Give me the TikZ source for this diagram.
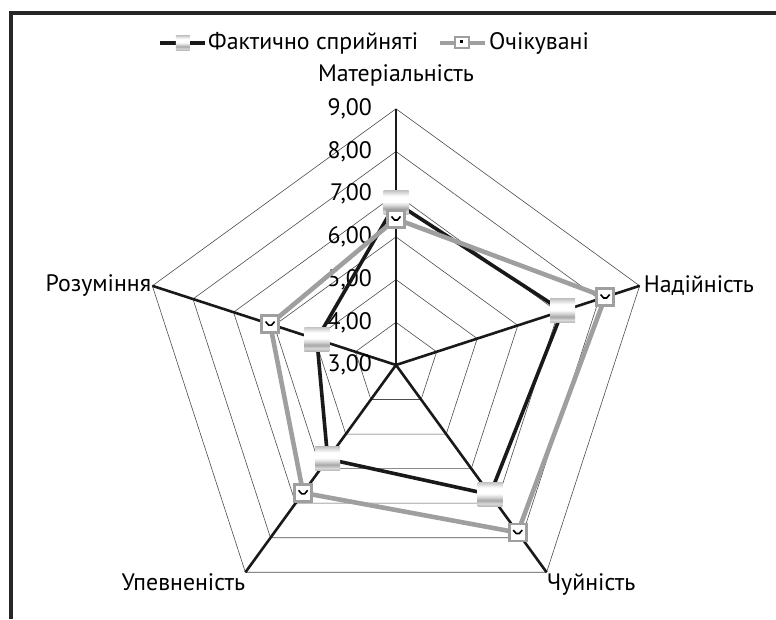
\documentclass[tikz,border=0pt]{standalone}
\usepackage{fontspec}
\setmainfont{PT Sans}
\usetikzlibrary{calc}
\newcommand\unitr{42.7}
\pgfdeclareverticalshading{factshade}{100bp}{color(0bp)=(gray!60); color(25bp)=(gray!60);
  color(31bp)=(gray!30); color(38bp)=(gray!70); color(44bp)=(gray!35); color(52bp)=(white);
  color(64bp)=(white); color(75bp)=(gray!45); color(100bp)=(gray!45)}
\tikzset{
  gridline/.style={draw=gray!60!black,line width=.6pt},
  spoke/.style={draw=black!90,line width=2.6pt},
  factline/.style={draw=black!90,line width=3.6pt,line join=round},
  expline/.style={draw=gray!75,line width=4.6pt,line join=round},
  factmark/.style={rectangle,inner sep=0pt,minimum width=25pt,minimum height=24pt,shading=factshade},
  expmark/.style={rectangle,inner sep=0pt,minimum size=17pt,draw=gray!75,line width=2.8pt,fill=white,
    path picture={\draw[black,line width=1.6pt]
      ($(path picture bounding box.center)+(-4.5,2.5)$) -- ++(3,-3.5) -- ++(3,0) -- ++(3,3.5);}},
  ticklabel/.style={anchor=east,inner sep=0pt},
  catlabel/.style={inner sep=2pt}
}
\begin{document}
\begin{tikzpicture}[x=1pt,y=1pt,font=\fontsize{23.8}{27}\selectfont]
  \useasboundingbox (-396,-254) rectangle (380,365);
  % frame
  \draw[black!85,line width=3.6pt] (-385,-254) -- (-385,352) -- (380,352);
  % grid
  \foreach \k in {1,...,6}
    \draw[gridline] (90:{\k*\unitr}) -- (18:{\k*\unitr}) -- (-54:{\k*\unitr})
      -- (-126:{\k*\unitr}) -- (162:{\k*\unitr}) -- cycle;
  \coordinate (c) at (0,0);
  \coordinate (vM) at (90:{6*\unitr});
  \coordinate (vN) at (18:{6*\unitr});
  \coordinate (vC) at (-54:{6*\unitr});
  \coordinate (vU) at (-126:{6*\unitr});
  \coordinate (vR) at (162:{6*\unitr});
  \draw[spoke] (c) -- (vM);
  \draw[spoke] (c) -- (vN);
  \draw[spoke] (c) -- (vC);
  \draw[spoke] (c) -- (vU);
  \draw[spoke] (c) -- (vR);
  % axis values
  \foreach \v [count=\k from 0] in {3,...,9}
    \node[ticklabel] (t\v) at (-24,{\k*\unitr}) {\v,00};
  % category labels
  \node[catlabel] (lM) at (0,290) {Матеріальність};
  \node[catlabel,anchor=west] (lN) at ($(vN)+(2,0)$) {Надійність};
  \node[catlabel,anchor=north west] (lC) at ($(vC)+(-2,1)$) {Чуйність};
  \node[catlabel,anchor=north east] (lU) at ($(vU)+(2,1)$) {Упевненість};
  \node[catlabel,anchor=east] (lR) at ($(vR)+(1,0)$) {Розуміння};
  % data: actual
  \coordinate (fM) at (90:{(6.80-3)*\unitr});
  \coordinate (fN) at (18:{(7.10-3)*\unitr});
  \coordinate (fC) at (-54:{(6.75-3)*\unitr});
  \coordinate (fU) at (-126:{(5.72-3)*\unitr});
  \coordinate (fR) at (162:{(4.95-3)*\unitr});
  % data: expected
  \coordinate (eM) at (90:{(6.42-3)*\unitr});
  \coordinate (eN) at (18:{(8.15-3)*\unitr});
  \coordinate (eC) at (-54:{(7.85-3)*\unitr});
  \coordinate (eU) at (-126:{(6.70-3)*\unitr});
  \coordinate (eR) at (162:{(6.10-3)*\unitr});
  \draw[factline] (fM) -- (fN) -- (fC) -- (fU) -- (fR) -- cycle;
  \draw[expline] (eM) -- (eN) -- (eC) -- (eU) -- (eR) -- cycle;
  \foreach \p in {M,N,C,U,R}
    \node[factmark] (mf\p) at (f\p) {};
  \foreach \p in {M,N,C,U,R}
    \node[expmark] (me\p) at (e\p) {};
  % legend
  \coordinate (lf1) at (-236,322);
  \coordinate (lf2) at (-191,322);
  \draw[factline] (lf1) -- (lf2);
  \node[factmark,minimum width=14pt,minimum height=15pt] (lgf) at (-213,322) {};
  \node[anchor=west,inner sep=0pt] (lgft) at (-188,322) {Фактично сприйняті};
  \coordinate (le1) at (44,322);
  \coordinate (le2) at (89,322);
  \draw[expline,line width=3.8pt] (le1) -- (le2);
  \node[expmark,minimum width=14pt,minimum height=11pt,line width=2pt,path picture={}] (lge) at (66,322) {};
  \fill (64,322) rectangle (67,325);
  \node[anchor=west,inner sep=0pt] (lget) at (93,322) {Очікувані};
\end{tikzpicture}
\end{document}
